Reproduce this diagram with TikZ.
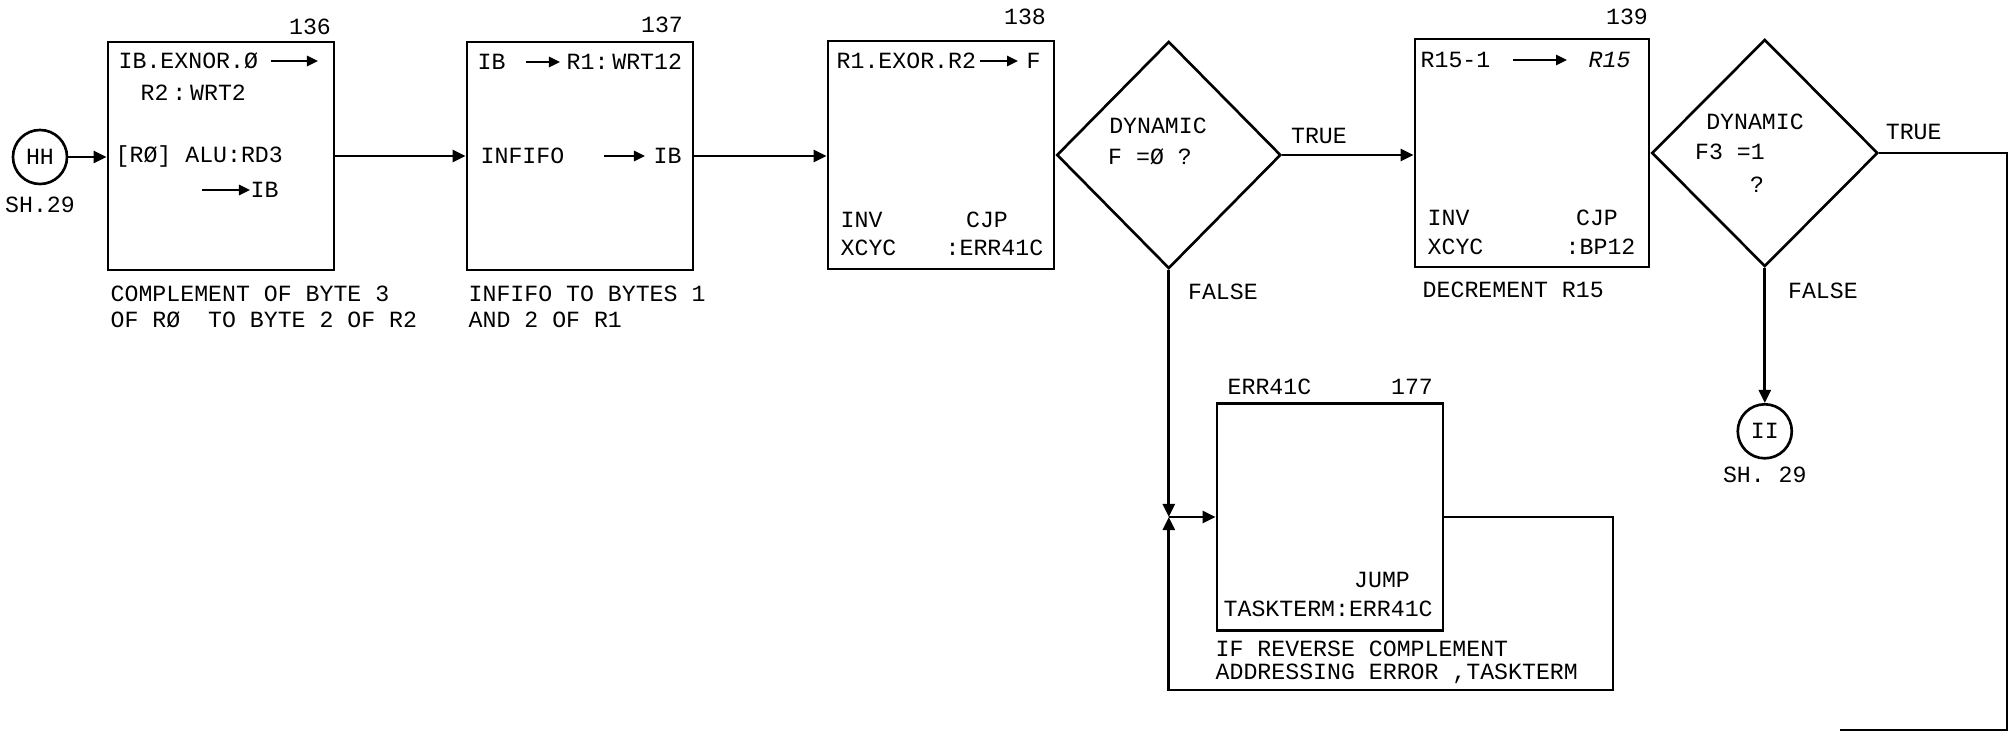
\documentclass[tikz,border=0pt]{standalone}
\usepackage{fontspec}
\newfontfamily\lettering{Liberation Mono}
\usetikzlibrary{arrows.meta, shapes.geometric, positioning}
\newcommand{\ltr}{\lettering\fontsize{6.6}{7.4}\selectfont}
\tikzset{
  blk/.style={rectangle, draw, line width=0.75pt, minimum width=2.26cm,
              minimum height=2.28cm, inner sep=0pt},
  dcs/.style={diamond, draw, line width=0.75pt, minimum width=2.24cm,
              minimum height=2.27cm, inner sep=0pt},
  conn/.style={circle, draw, line width=0.75pt, minimum size=5.4mm,
               inner sep=0pt, font=\ltr},
  txt/.style={inner sep=0pt, anchor=west, font=\ltr},
  ctr/.style={inner sep=0pt, font=\ltr},
  capt/.style={inner sep=0pt, anchor=north west, align=left, font=\ltr},
  flow/.style={-{Triangle[length=1.3mm, width=1.2mm]}, line width=0.75pt},
  ia/.style={-{Triangle[length=1.1mm, width=1mm]}, line width=0.7pt},
  wire/.style={line width=0.75pt}
}

\begin{document}
\begin{tikzpicture}[x=0.01cm, y=-0.01cm]
  \useasboundingbox (0,0) rectangle (2015,731);

  % entry connector
  \node[conn] (hh) at (40,157) {HH};
  \node[ctr, below=1.1mm of hh] (hhs) {SH.29};

  % step 136
  \node[blk] (b136) at (221,156) {};
  \node[ctr] (n136) at (310,27) {136};
  \node[txt] (t136a) at (118,61) {IB.EXNOR.Ø};
  \coordinate (t136e) at (318,61);
  \node[txt] (t136b) at (140,93) {R2\,:\,WRT2};
  \node[txt] (t136c) at (115,157) {[RØ] ALU:RD3};
  \coordinate (t136s) at (202,190);
  \node[txt] (t136d) at (250,190) {IB};
  \draw[ia, shorten <=1.2mm] (t136a.east) -- (t136e);
  \draw[ia] (t136s) -- (t136d.west);
  \node[capt] (c136) at (110,285) {COMPLEMENT OF BYTE 3\\OF RØ\ \ TO BYTE 2 OF R2};

  % step 137
  \node[blk] (b137) at (580,156) {};
  \node[ctr] (n137) at (662,25) {137};
  \node[txt] (t137a) at (477,62) {IB};
  \node[txt] (t137b) at (566,62) {R1:\,WRT12};
  \node[txt] (t137c) at (480,156) {INFIFO};
  \node[txt] (t137d) at (653,156) {IB};
  \draw[ia, shorten <=2mm, shorten >=0.6mm] (t137a.east) -- (t137b.west);
  \draw[ia, shorten <=3.9mm, shorten >=0.8mm] (t137c.east) -- (t137d.west);
  \node[capt] (c137) at (468,285) {INFIFO TO BYTES 1\\ AND 2 OF R1};

  % step 138
  \node[blk] (b138) at (941,155) {};
  \node[ctr] (n138) at (1025,17) {138};
  \node[txt] (t138a) at (836,61) {R1.EXOR.R2};
  \node[txt] (t138b) at (1026,61) {F};
  \draw[ia, shorten <=0.3mm, shorten >=0.8mm] (t138a.east) -- (t138b.west);
  \node[txt] (t138c) at (840,220) {INV};
  \node[ctr] (t138d) at (987,220) {CJP};
  \node[txt] (t138e) at (840,248) {XCYC};
  \node[txt] (t138f) at (945,248) {:ERR41C};

  % test after 138
  \node[dcs, right=0pt of b138] (q138) {};
  \node[ctr] (q138a) at (1158,126) {DYNAMIC};
  \node[ctr] (q138b) at (1150,157) {F =Ø ?};

  % step 139
  \node[blk, minimum width=2.34cm] (b139) at (1532,153) {};
  \node[ctr] (n139) at (1627,17) {139};
  \node[txt] (t139a) at (1420,60) {R15-1};
  \node[txt, font=\ltr\itshape] (t139b) at (1588,60) {R15};
  \draw[ia, shorten <=2.2mm, shorten >=2.1mm] (t139a.east) -- (t139b.west);
  \node[txt] (t139c) at (1427,218) {INV};
  \node[ctr] (t139d) at (1597,218) {CJP};
  \node[txt] (t139e) at (1427,247) {XCYC};
  \node[txt] (t139f) at (1565,247) {:BP12};
  \node[capt] (c139) at (1422,281) {DECREMENT R15};

  % test after 139
  \node[dcs, minimum width=2.26cm, right=0pt of b139] (q139) {};
  \node[ctr] (q139a) at (1755,122) {DYNAMIC};
  \node[ctr] (q139b) at (1730,152) {F3 =1};
  \node[ctr] (q139c) at (1757,185) {?};

  % exit connector
  \node[conn, below=1.35cm of q139] (ii) {II};
  \node[ctr, below=0.7mm of ii] (iis) {SH. 29};

  % step 177
  \node[blk, minimum height=2.27cm] (b177) at (1330,517) {};
  \node[txt] (t177a) at (1227,387) {ERR41C};
  \node[ctr] (n177) at (1412,387) {177};
  \node[ctr] (t177b) at (1382,580) {JUMP};
  \node[txt] (t177c) at (1223,609) {TASKTERM:ERR41C};
  \node[capt, font=\lettering\fontsize{6.6}{6.5}\selectfont] (c177) at (1215,640)
       {IF REVERSE COMPLEMENT\\ADDRESSING ERROR ,TASKTERM};

  % flow
  \draw[flow] (hh.east) -- (hh.east -| b136.west);
  \draw[flow] (b136.east) -- (b136.east -| b137.west);
  \draw[flow] (b137.east) -- (b137.east -| b138.west);
  \draw[flow] (q138.east) -- node[ctr, above=1mm, pos=0.28] {TRUE} (q138.east -| b139.west);
  \coordinate (jn) at (q138.south |- b177.west);
  \coordinate (lp) at (1613,690);
  \draw[flow] (q138.south) -- node[ctr, anchor=west, xshift=1.8mm, pos=0.09] {FALSE} (jn);
  \draw[flow] (jn) -- (b177.west);
  \draw[flow] (b177.east) -| (lp) -| (jn);
  \draw[flow] (q139.south) -- node[ctr, anchor=west, xshift=2.2mm, pos=0.17] {FALSE} (ii.north);
  \coordinate (rt) at (2007,730);
  \coordinate (rb) at (1840,730);
  \draw[wire] (q139.east) -- node[ctr, above=1.2mm, pos=0.27] {TRUE} (q139.east -| rt) -- (rt) -- (rb);
\end{tikzpicture}
\end{document}
